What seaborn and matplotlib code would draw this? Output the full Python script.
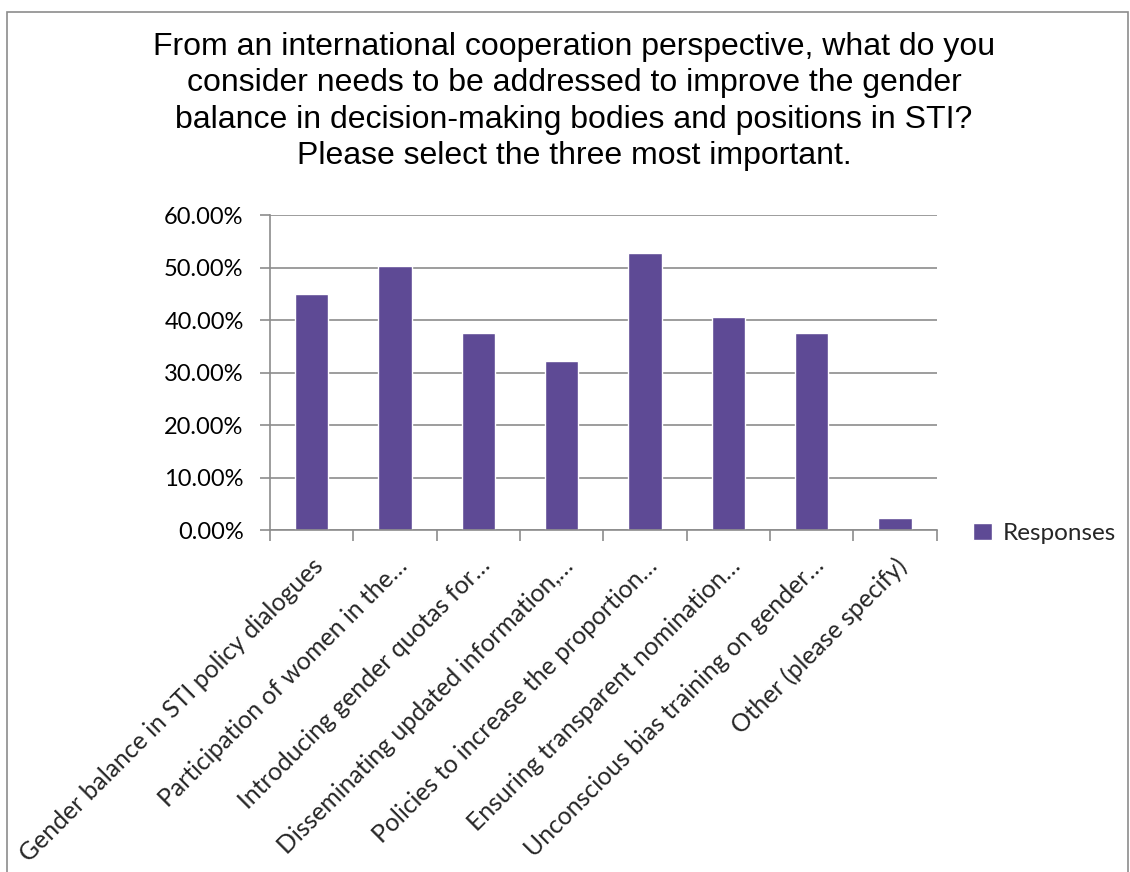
import matplotlib
matplotlib.use('Agg')
import matplotlib.pyplot as plt
import numpy as np
import pandas as pd
import seaborn as sns
from matplotlib.patches import Rectangle
from matplotlib.ticker import FuncFormatter, MultipleLocator

categories = [
    'Gender balance in STI policy dialogues',
    'Participation of women in the…',
    'Introducing gender quotas for…',
    'Disseminating updated information,…',
    'Policies to increase the proportion…',
    'Ensuring transparent nomination…',
    'Unconscious bias training on gender…',
    'Other (please specify)',
]
responses = [0.450, 0.504, 0.376, 0.323, 0.528, 0.406, 0.376, 0.023]

title = ('From an international cooperation perspective, what do you\n'
         'consider needs to be addressed to improve the gender\n'
         'balance in decision-making bodies and positions in STI?\n'
         'Please select the three most important.')

df = pd.DataFrame({'category': categories, 'value': responses})

sns.set_theme(style='white')
plt.rcParams['font.family'] = ['Lato', 'DejaVu Sans']

fig = plt.figure(figsize=(11.3, 8.72), dpi=100)
ax = fig.add_axes([0.239, 0.392, 0.590, 0.361])

bar_color = '#5E4A95'
sns.barplot(x='category', y='value', data=df, color=bar_color, width=0.4,
            saturation=1, label='Responses', ax=ax)

grid_color = '#8C8C8C'
ax.set_ylim(0, 0.6)
ax.set_xlim(-0.5, len(categories) - 0.5)
ax.yaxis.set_major_locator(MultipleLocator(0.1))
ax.yaxis.set_major_formatter(FuncFormatter(lambda v, _: f'{v * 100:.2f}%'))
ax.yaxis.grid(True, color=grid_color, linewidth=1.2)
ax.set_axisbelow(True)

for side in ['top', 'right']:
    ax.spines[side].set_visible(False)
for side in ['left', 'bottom']:
    ax.spines[side].set_color(grid_color)
    ax.spines[side].set_linewidth(1.2)

ax.tick_params(axis='y', left=True, length=7, width=1.2, color=grid_color,
               labelsize=17, labelcolor='black', pad=12)
ax.set_xticks(range(len(categories)))
ax.set_xticklabels(categories, rotation=45, ha='right',
                   rotation_mode='anchor', fontsize=17.8)
ax.tick_params(axis='x', bottom=True, length=0, pad=17)
ax.set_xticks(np.arange(-0.5, len(categories)), minor=True)
ax.tick_params(axis='x', which='minor', bottom=True, length=8, width=1.2,
               color=grid_color)
ax.set_xlabel('')
ax.set_ylabel('')

ax.legend(loc='center left', bbox_to_anchor=(1.022, -0.01), frameon=False,
          fontsize=17.5, handlelength=0.75, handleheight=0.75,
          handletextpad=0.45)

fig.text(0.508, 0.963, title, ha='center', va='top', fontsize=23,
         family=['Liberation Sans', 'DejaVu Sans'], linespacing=1.27,
         color='black')

fig.patches.append(Rectangle((0.006, -0.01), 0.992, 0.996, transform=fig.transFigure,
                             fill=False, edgecolor='#8C8C8C', linewidth=1.2))

fig.savefig('out.png', dpi=100)
